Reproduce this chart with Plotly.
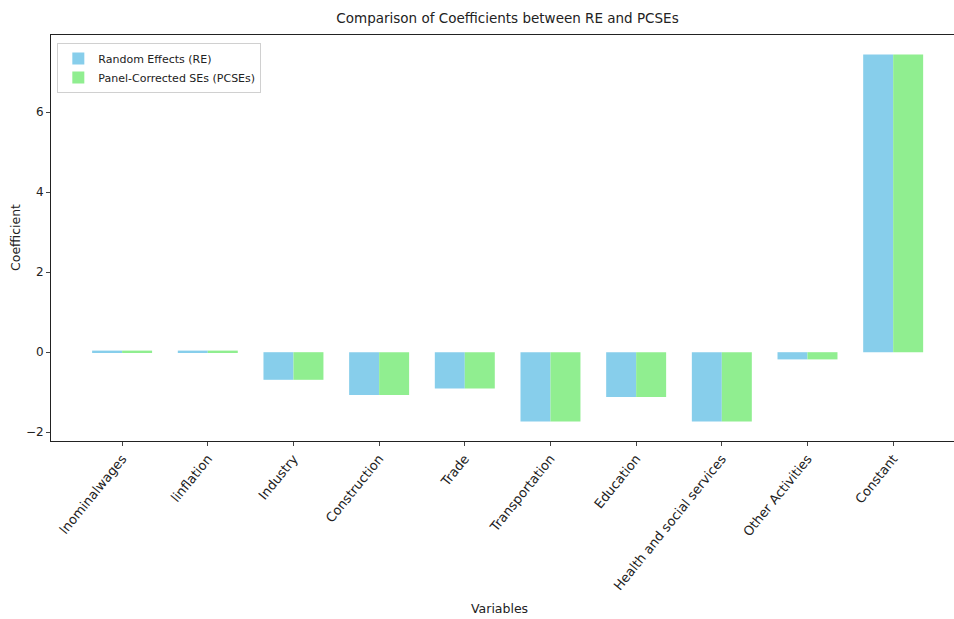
import plotly.graph_objects as go

variables = ["lnominalwages", "linflation", "Industry", "Construction", "Trade",
             "Transportation", "Education", "Health and social services",
             "Other Activities", "Constant"]
re_coef = [0.04, 0.04, -0.69, -1.07, -0.91, -1.73, -1.12, -1.73, -0.18, 7.44]
pcse_coef = [0.04, 0.04, -0.69, -1.07, -0.91, -1.73, -1.12, -1.73, -0.18, 7.44]
y_ticks = [-2, 0, 2, 4, 6]

font = "DejaVu Sans"
idx = list(range(len(variables)))

fig = go.Figure()
fig.add_trace(go.Bar(x=idx, y=re_coef, name="Random Effects (RE)",
                     marker=dict(color="#87CEEB", line=dict(width=0))))
fig.add_trace(go.Bar(x=idx, y=pcse_coef, name="Panel-Corrected SEs (PCSEs)",
                     marker=dict(color="#90EE90", line=dict(width=0))))

fig.update_layout(
    width=954, height=619,
    margin=dict(l=51, r=0, t=35, b=178),
    paper_bgcolor="white", plot_bgcolor="white",
    barmode="group", bargap=0.3, bargroupgap=0,
    font=dict(family=font, size=12, color="#222"),
    title=dict(text="Comparison of Coefficients between RE and PCSEs",
               x=(51 + 903 / 2 + 5) / 954, xanchor="center",
               y=1 - 18 / 619, yanchor="middle",
               font=dict(family=font, size=13.5, color="#222")),
    showlegend=True,
    legend=dict(x=0.007, y=0.98, xanchor="left", yanchor="top",
                bgcolor="rgba(255,255,255,0.8)", bordercolor="#d0d0d0", borderwidth=1,
                font=dict(family=font, size=11, color="#222"),
                itemwidth=30, tracegroupgap=2),
    xaxis=dict(
        range=[-0.83, 9.71],
        tickmode="array", tickvals=idx, ticktext=variables,
        tickangle=-51, ticks="outside", ticklen=4, tickcolor="#444",
        showline=True, linecolor="#222", linewidth=1, mirror=True,
        showgrid=False, zeroline=False,
        tickfont=dict(family=font, size=13, color="#222"),
    ),
    yaxis=dict(
        range=[-2.22, 7.93],
        tickmode="array", tickvals=y_ticks, ticktext=["−2", "0", "2", "4", "6"],
        ticks="outside", ticklen=4, tickcolor="#444",
        showline=True, linecolor="#222", linewidth=1,
        showgrid=False, zeroline=False,
        tickfont=dict(family=font, size=12, color="#222"),
    ),
    annotations=[
        dict(text="Variables", xref="paper", yref="paper",
             x=(499 - 51) / 903, y=-(608 - 441) / 406, xanchor="center", yanchor="middle",
             showarrow=False, font=dict(family=font, size=12.5, color="#222")),
        dict(text="Coefficient", xref="paper", yref="paper",
             x=-(51 - 15) / 903, y=(441 - 238) / 406, xanchor="center", yanchor="middle",
             textangle=-90, showarrow=False, font=dict(family=font, size=12.5, color="#222")),
    ],
)

fig.write_html("out.html")
